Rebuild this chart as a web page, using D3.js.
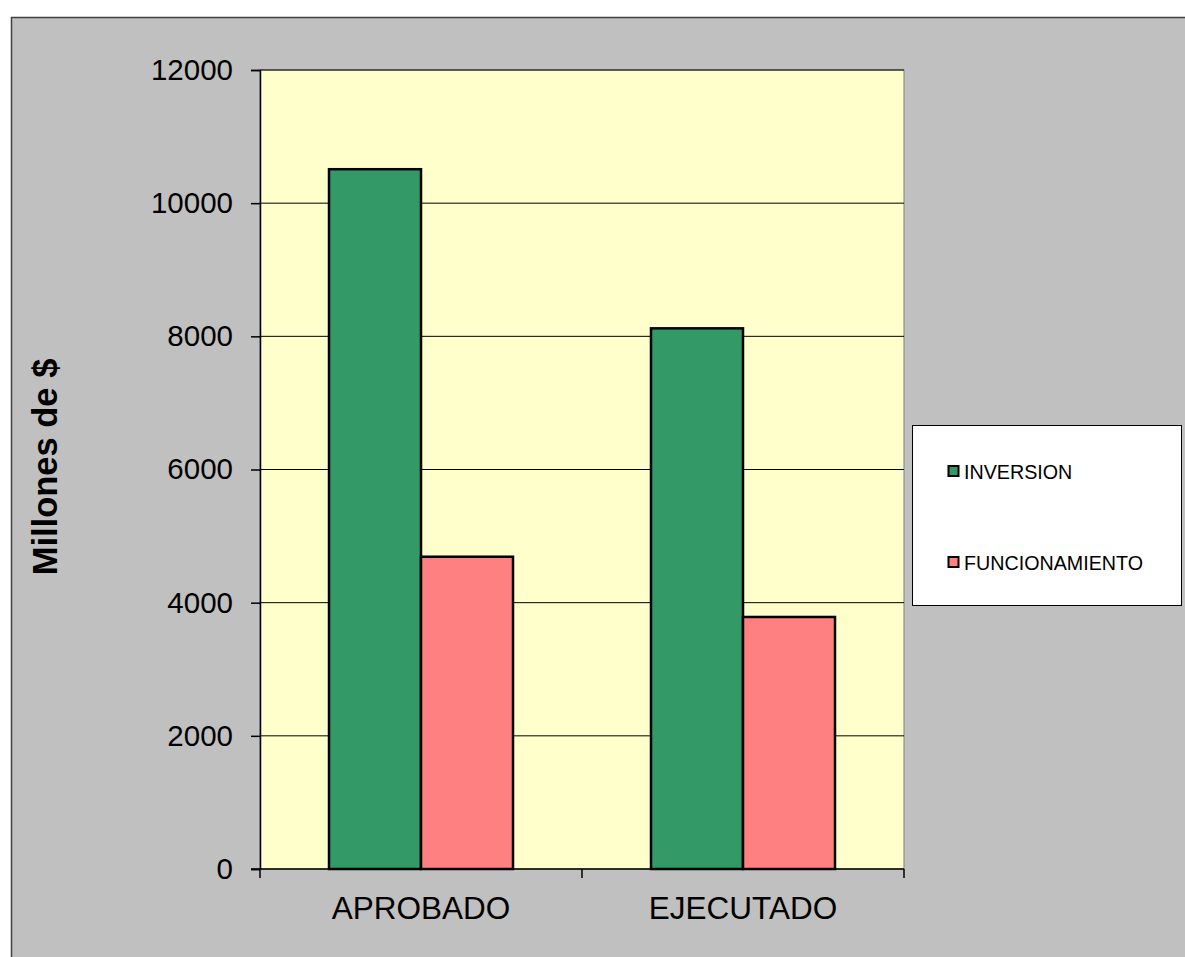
<!DOCTYPE html>
<html>
<head>
<meta charset="utf-8">
<script src="https://cdn.jsdelivr.net/npm/d3@7"></script>
<style>
  html, body { margin: 0; padding: 0; background: #ffffff; }
  svg { display: block; font-family: "Liberation Sans", Arial, sans-serif; }
</style>
</head>
<body>
<svg id="chart" width="1185" height="957"></svg>
<script>
const categories = ["APROBADO", "EJECUTADO"];
const seriesNames = ["INVERSION", "FUNCIONAMIENTO"];
const inversion = [10510, 8120];
const funcionamiento = [4690, 3785];
const yTicks = [0, 2000, 4000, 6000, 8000, 10000, 12000];
const colors = ["#339966", "#FF8080"];

const svg = d3.select("#chart");
const W = 1185, H = 957;

// outer chart area
svg.append("rect").attr("x", 11.5).attr("y", 17.5).attr("width", W).attr("height", H)
  .attr("fill", "#C0C0C0").attr("stroke", "#404040").attr("stroke-width", 1.5);

const plot = { left: 260, right: 904, top: 70, bottom: 869 };

const y = d3.scaleLinear().domain([0, 12000]).range([plot.bottom, plot.top]);
const x0 = d3.scaleBand().domain(categories).range([plot.left, plot.right]).padding(0);
const x1 = d3.scaleBand().domain(seriesNames).range([0, x0.bandwidth()]).paddingInner(0).paddingOuter(0.75);

// plot background
svg.append("rect").attr("x", plot.left).attr("y", plot.top)
  .attr("width", plot.right - plot.left).attr("height", plot.bottom - plot.top)
  .attr("fill", "#FFFFCC").attr("stroke", "#808080").attr("stroke-width", 1);

// gridlines
svg.append("g").selectAll("line").data(yTicks.filter(d => d > 0)).join("line")
  .attr("x1", plot.left).attr("x2", plot.right)
  .attr("y1", d => y(d)).attr("y2", d => y(d))
  .attr("stroke", "#000").attr("stroke-width", 1);

// bars
const table = categories.map((c, i) => ({ cat: c, values: [inversion[i], funcionamiento[i]] }));
const groups = svg.append("g").selectAll("g").data(table).join("g")
  .attr("transform", d => `translate(${x0(d.cat)},0)`);
groups.selectAll("rect").data(d => d.values.map((v, j) => ({ s: seriesNames[j], v, j }))).join("rect")
  .attr("x", d => x1(d.s)).attr("width", x1.bandwidth())
  .attr("y", d => y(d.v)).attr("height", d => y(0) - y(d.v))
  .attr("fill", d => colors[d.j]).attr("stroke", "#000").attr("stroke-width", 2.5);

// y axis
const yAxis = d3.axisLeft(y).tickValues(yTicks).tickSize(9).tickPadding(18).tickFormat(d3.format("d"));
const yg = svg.append("g").attr("transform", `translate(${plot.left},0)`).call(yAxis);
yg.select(".domain").attr("stroke", "#000").attr("stroke-width", 1.5);
yg.selectAll(".tick line").attr("stroke", "#000").attr("stroke-width", 1.5);
yg.selectAll(".tick text").attr("font-size", 29.5).attr("fill", "#000")
  .attr("font-family", "Liberation Sans, Arial, sans-serif");

// x axis
const xg = svg.append("g").attr("transform", `translate(0,${plot.bottom})`);
xg.append("line").attr("x1", plot.left - 9).attr("x2", plot.right)
  .attr("y1", 0).attr("y2", 0).attr("stroke", "#000").attr("stroke-width", 1.5);
const boundaries = [plot.left, ...categories.map(c => x0(c) + x0.bandwidth())];
xg.selectAll("line.tk").data(boundaries).join("line").attr("class", "tk")
  .attr("x1", d => d).attr("x2", d => d).attr("y1", 0).attr("y2", 9)
  .attr("stroke", "#000").attr("stroke-width", 1.5);
xg.selectAll("text").data(categories).join("text")
  .attr("x", d => x0(d) + x0.bandwidth() / 2).attr("y", 50)
  .attr("text-anchor", "middle").attr("font-size", 31.5).attr("fill", "#000")
  .text(d => d);

// y axis title
svg.append("text").attr("transform", "translate(57,467) rotate(-90)")
  .attr("text-anchor", "middle").attr("font-size", 34.5).attr("font-weight", "bold")
  .attr("fill", "#000").text("Millones de $");

// legend
const lg = svg.append("g");
lg.append("rect").attr("x", 912.5).attr("y", 425.5).attr("width", 269).attr("height", 180)
  .attr("fill", "#fff").attr("stroke", "#000").attr("stroke-width", 1);
const legY = [471, 562];
seriesNames.forEach((s, i) => {
  lg.append("rect").attr("x", 948.5).attr("y", legY[i] - 5).attr("width", 10).attr("height", 10)
    .attr("fill", colors[i]).attr("stroke", "#000").attr("stroke-width", 2);
  lg.append("text").attr("x", 964).attr("y", legY[i] + 7.5).attr("font-size", 19.7)
    .attr("fill", "#000").text(s);
});
</script>
</body>
</html>
